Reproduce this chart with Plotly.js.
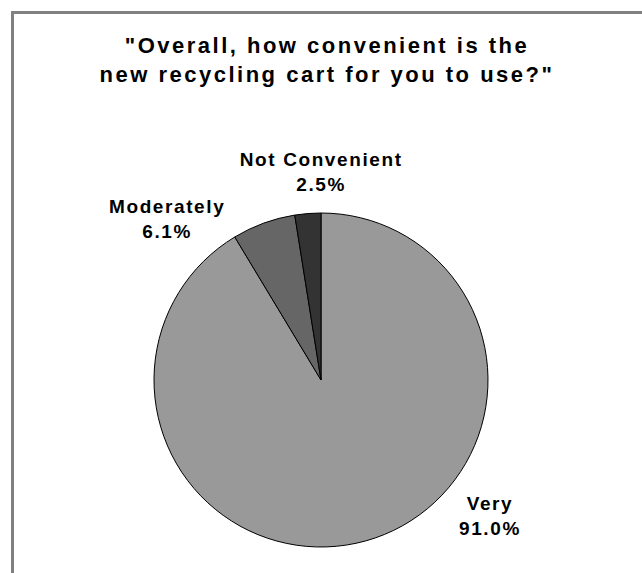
<!DOCTYPE html>
<html>
<head>
<meta charset="utf-8">
<script src="https://cdn.plot.ly/plotly-3.0.1.min.js"></script>
<style>
html,body{margin:0;padding:0;background:#fff;}
#chart .gtitle{letter-spacing:2.5px;}
#chart .annotation-text{letter-spacing:1.6px;}
</style>
</head>
<body>
<div id="chart" style="width:642px;height:573px;"></div>
<script>
const categories = ["Very", "Moderately", "Not Convenient"];
const percents = [91.0, 6.1, 2.5];
const sliceColors = ["#999999", "#666666", "#333333"];
const titleText = '"Overall, how convenient is the<br>new recycling cart for you to use?"';

// label anchor positions (pixels in the 642x573 figure)
const labelPos = [[490, 516], [168, 219], [322, 172]];

const W = 642, H = 573;
const font = {family: "Liberation Sans, Arial, sans-serif", color: "#000000"};

const annotations = categories.map((c, i) => ({
  text: c + "<br>" + percents[i].toFixed(1) + "%",
  xref: "paper", yref: "paper",
  x: labelPos[i][0] / W, y: 1 - labelPos[i][1] / H,
  xanchor: "center", yanchor: "middle",
  showarrow: false,
  font: Object.assign({}, font, {size: 19, weight: "bold"})
}));

const cx = 321, cy = 380, r = 167;
const data = [{
  type: "pie",
  labels: categories,
  values: percents,
  sort: false,
  direction: "clockwise",
  rotation: 0,
  textinfo: "none",
  hoverinfo: "label+percent",
  marker: {colors: sliceColors, line: {color: "#000000", width: 1}},
  domain: {x: [(cx - r) / W, (cx + r) / W], y: [1 - (cy + r) / H, 1 - (cy - r) / H]}
}];

const layout = {
  width: W, height: H,
  margin: {l: 0, r: 0, t: 0, b: 0},
  paper_bgcolor: "#ffffff",
  showlegend: false,
  title: {
    text: titleText,
    x: 327 / W, xanchor: "center",
    y: 1 - 53 / H, yanchor: "middle",
    font: Object.assign({}, font, {size: 22, weight: "bold"})
  },
  annotations: annotations,
  shapes: [{
    type: "path", xref: "paper", yref: "paper",
    path: "M " + (12.5 / W) + "," + 0 + " L " + (12.5 / W) + "," + (1 - 12.5 / H) + " L 1," + (1 - 12.5 / H),
    line: {color: "#808080", width: 3}
  }]
};

Plotly.newPlot("chart", data, layout, {displayModeBar: false, staticPlot: true});
</script>
</body>
</html>
